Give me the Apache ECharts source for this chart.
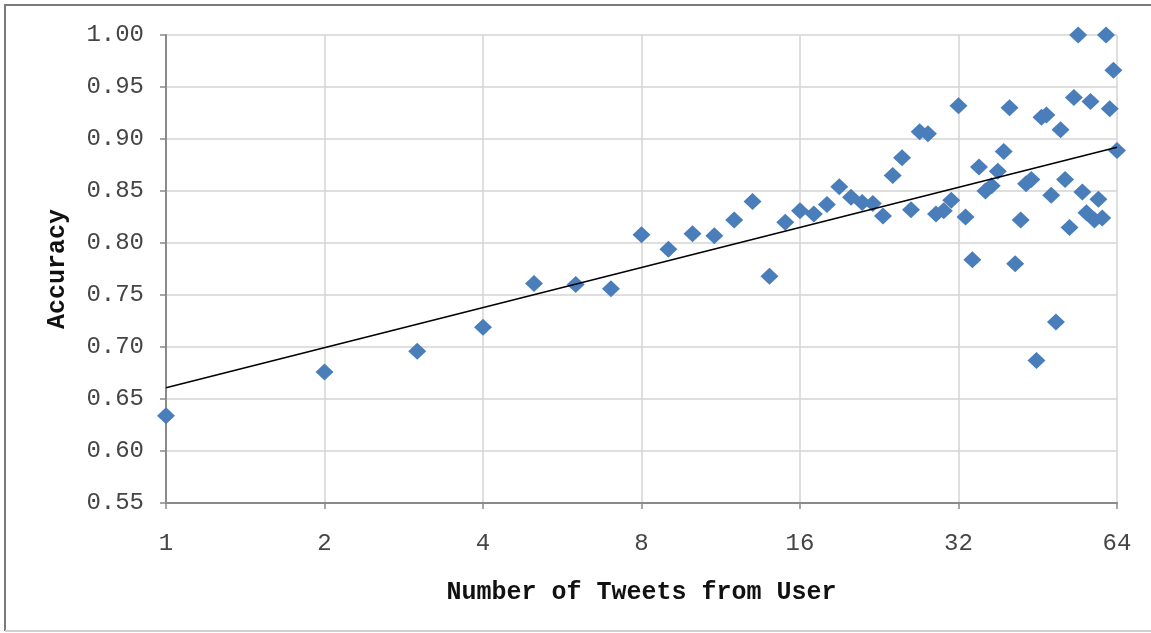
<!DOCTYPE html>
<html>
<head>
<meta charset="utf-8">
<script src="https://cdn.jsdelivr.net/npm/echarts@6/dist/echarts.min.js"></script>
<style>
html,body{margin:0;padding:0;background:#fff;}
#chart{width:1151px;height:633px;}
</style>
</head>
<body>
<div id="chart"></div>
<script>
// Number of tweets from user (x, log2 scale)
const tweets = [];
for (let i = 1; i <= 64; i++) tweets.push(i);
// Accuracy for each tweet count 1..64
const accuracy = [
  0.634, 0.676, 0.696, 0.719, 0.761, 0.760, 0.756, 0.808, 0.794, 0.809,
  0.807, 0.822, 0.840, 0.768, 0.820, 0.831, 0.828, 0.837, 0.854, 0.844,
  0.839, 0.838, 0.826, 0.865, 0.882, 0.832, 0.907, 0.905, 0.828, 0.831,
  0.841, 0.932, 0.825, 0.784, 0.873, 0.850, 0.855, 0.869, 0.888, 0.930,
  0.780, 0.822, 0.857, 0.861, 0.687, 0.921, 0.923, 0.846, 0.724, 0.909,
  0.861, 0.815, 0.940, 1.000, 0.849, 0.829, 0.936, 0.822, 0.842, 0.824,
  1.000, 0.929, 0.966, 0.889
];
const xTicks = [1, 2, 4, 8, 16, 32, 64];
const yTicks = [0.55, 0.60, 0.65, 0.70, 0.75, 0.80, 0.85, 0.90, 0.95, 1.00];

// logarithmic trendline (least squares on log2 x)
const n = tweets.length;
let sx = 0, sy = 0, sxx = 0, sxy = 0;
for (let i = 0; i < n; i++) {
  const lx = Math.log2(tweets[i]);
  sx += lx; sy += accuracy[i]; sxx += lx * lx; sxy += lx * accuracy[i];
}
const slope = (n * sxy - sx * sy) / (n * sxx - sx * sx);
const icpt = (sy - slope * sx) / n;
const trend = [tweets[0], tweets[n - 1]].map(x => [x, icpt + slope * Math.log2(x)]);

const pts = tweets.map((x, i) => [x, accuracy[i]]);

const chart = echarts.init(document.getElementById('chart'), null, {renderer: 'canvas'});
const tickFont = {fontFamily: 'Liberation Mono', fontSize: 24, color: '#454545'};
chart.setOption({
  animation: false,
  backgroundColor: '#ffffff',
  grid: {left: 166, right: 34, top: 35, bottom: 130},
  xAxis: {
    type: 'log', logBase: 2, min: xTicks[0], max: xTicks[xTicks.length - 1],
    name: 'Number of Tweets from User', nameLocation: 'middle', nameGap: 77,
    nameTextStyle: {fontFamily: 'Liberation Mono', fontWeight: 'bold', fontSize: 25, color: '#111'},
    axisLine: {show: true, lineStyle: {color: '#8a8a8a', width: 2}},
    axisTick: {show: true, length: 6, lineStyle: {color: '#8a8a8a', width: 1.5}},
    axisLabel: Object.assign({margin: 29, formatter: v => String(Math.round(v))}, tickFont),
    splitLine: {show: true, lineStyle: {color: '#d4d4d4', width: 1.5}}
  },
  yAxis: {
    type: 'value', min: yTicks[0], max: yTicks[yTicks.length - 1], interval: 0.05,
    name: 'Accuracy', nameLocation: 'middle', nameGap: 96, nameRotate: 90,
    nameTextStyle: {fontFamily: 'Liberation Mono', fontWeight: 'bold', fontSize: 25, color: '#111'},
    axisLine: {show: true, lineStyle: {color: '#8a8a8a', width: 2}},
    axisTick: {show: true, length: 6, lineStyle: {color: '#8a8a8a', width: 1.5}},
    axisLabel: Object.assign({margin: 22, formatter: v => v.toFixed(2)}, tickFont),
    splitLine: {show: true, lineStyle: {color: '#d4d4d4', width: 1.5}}
  },
  graphic: [
    {type: 'line', shape: {x1: 5, y1: 4, x2: 5, y2: 631}, style: {stroke: '#7a7a7a', lineWidth: 2}},
    {type: 'line', shape: {x1: 4, y1: 5, x2: 1151, y2: 5}, style: {stroke: '#7a7a7a', lineWidth: 2}},
    {type: 'line', shape: {x1: 5, y1: 631, x2: 1151, y2: 631}, style: {stroke: '#d0d0d0', lineWidth: 2}}
  ],
  series: [
    {
      type: 'scatter', data: pts, symbol: 'diamond', symbolSize: [18, 17],
      itemStyle: {color: '#4A7EBB', opacity: 1}, z: 3
    },
    {
      type: 'line', data: trend, symbol: 'none', showSymbol: false,
      lineStyle: {color: '#000000', width: 1.6}, z: 4, silent: true
    }
  ]
});
</script>
</body>
</html>
